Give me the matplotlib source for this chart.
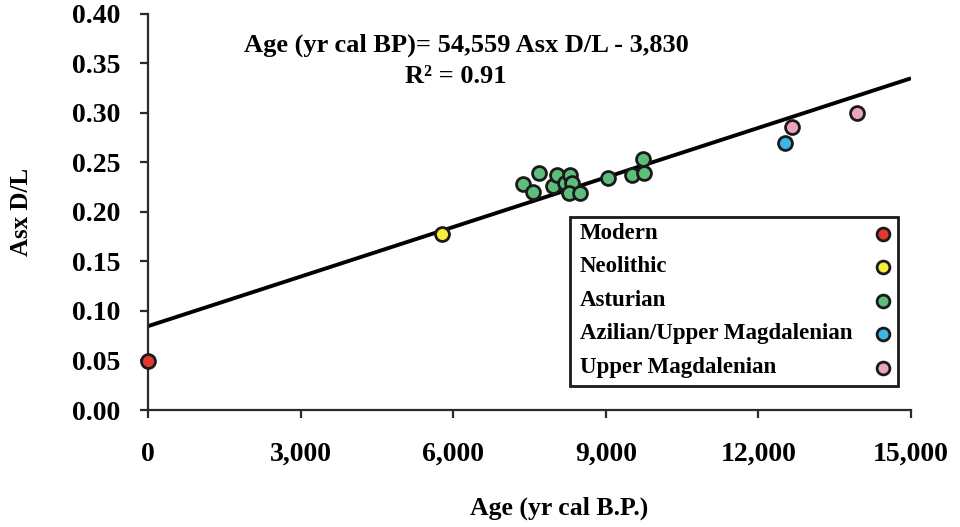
import numpy as np
import matplotlib
matplotlib.use("Agg")
import matplotlib.pyplot as plt
from matplotlib.patches import Rectangle

plt.rcParams["font.family"] = ["Liberation Serif", "DejaVu Serif"]
plt.rcParams["font.weight"] = "bold"

# Asx D/L racemization ratios against calibrated radiocarbon age
groups = ["Modern", "Neolithic", "Asturian", "Azilian/Upper Magdalenian", "Upper Magdalenian"]
colors = ["#e23a2c", "#f7ee3a", "#5dbe7c", "#3fb4e6", "#eba3c0"]

modern_age = [0]
modern_dl = [0.049]

neolithic_age = [5782]
neolithic_dl = [0.178]

asturian_age = [7366, 7563, 7693, 7969, 8035, 8199, 8297, 8330, 8283, 8493,
                9049, 9509, 9725, 9757]
asturian_dl = [0.2276, 0.2201, 0.2387, 0.2258, 0.2369, 0.2286, 0.2369, 0.2293,
               0.2191, 0.2191, 0.2337, 0.2369, 0.2531, 0.2393]

azilian_age = [12520]
azilian_dl = [0.269]

upper_mag_age = [12660, 13940]
upper_mag_dl = [0.286, 0.300]

x_ticks = [0, 3000, 6000, 9000, 12000, 15000]
x_ticklabels = ["0", "3,000", "6,000", "9,000", "12,000", "15,000"]
y_ticks = [0.00, 0.05, 0.10, 0.15, 0.20, 0.25, 0.30, 0.35, 0.40]

ages = [modern_age, neolithic_age, asturian_age, azilian_age, upper_mag_age]
dls = [modern_dl, neolithic_dl, asturian_dl, azilian_dl, upper_mag_dl]

fig = plt.figure(figsize=(9.6, 5.27), dpi=100)
ax = fig.add_axes([148 / 960, 1 - 410 / 527, 763 / 960, 396.5 / 527])

# least-squares trend of D/L on age
all_age = np.concatenate([np.asarray(a, float) for a in ages])
all_dl = np.concatenate([np.asarray(d, float) for d in dls])
slope, intercept = np.polyfit(all_age, all_dl, 1)
xx = np.array([0, 15000])
ax.plot(xx, intercept + slope * xx, color="black", lw=2.8, solid_capstyle="butt", zorder=2)

for a, d, c in zip(ages, dls, colors):
    ax.scatter(a, d, s=100, facecolor=c, edgecolor="#1a1a1a", linewidth=2.0,
               zorder=3, clip_on=False)

ax.set_xlim(0, 15000)
ax.set_ylim(0, 0.40)
ax.set_xticks(x_ticks)
ax.set_xticklabels(x_ticklabels)
ax.set_yticks(y_ticks)
ax.set_yticklabels([f"{v:.2f}" for v in y_ticks])

for s in ["top", "right"]:
    ax.spines[s].set_visible(False)
for s in ["left", "bottom"]:
    ax.spines[s].set_color("#2a2a2a")
    ax.spines[s].set_linewidth(1.6)

ax.tick_params(axis="both", direction="out", length=6, width=1.6, color="#2a2a2a",
               labelsize=20)
ax.tick_params(axis="y", pad=14)
ax.tick_params(axis="x", pad=17)
for lab in ax.get_xticklabels() + ax.get_yticklabels():
    lab.set_fontweight("bold")

# axis titles
fig.text(559 / 960, 1 - 508 / 527, "Age (yr cal B.P.)", ha="center", va="center",
         fontsize=18.5, fontweight="bold")
fig.text(22 / 960, 1 - 212 / 527, "Asx D/L", ha="center", va="center",
         rotation=90, fontsize=18, fontweight="bold")

# regression equation
fig.text(466 / 960, 1 - 45 / 527, "Age (yr cal BP)= 54,559 Asx D/L - 3,830",
         ha="center", va="center", fontsize=19, fontweight="bold")
fig.text(456 / 960, 1 - 76 / 527, "R² = 0.91",
         ha="center", va="center", fontsize=19, fontweight="bold")

# legend: labels on the left, marker swatches on the right
def ax_x(px):
    return (px - 148) / 763

def ax_y(py):
    return (410 - py) / 396.5

box = Rectangle((ax_x(570), ax_y(386)), ax_x(898) - ax_x(570), ax_y(217) - ax_y(386),
                transform=ax.transAxes, facecolor="white", edgecolor="#1a1a1a",
                linewidth=2.0, zorder=4)
ax.add_patch(box)
row_y = [233.5, 267, 300.5, 334, 367.5]
for name, c, py in zip(groups, colors, row_y):
    ax.text(ax_x(580), ax_y(py), name, transform=ax.transAxes, ha="left",
            va="center", fontsize=16.5, fontweight="bold", zorder=5)
    ax.scatter([ax_x(883)], [ax_y(py)], s=85, facecolor=c, edgecolor="#1a1a1a",
               linewidth=2.0, transform=ax.transAxes, zorder=5, clip_on=False)

fig.savefig("out.png", dpi=100)
